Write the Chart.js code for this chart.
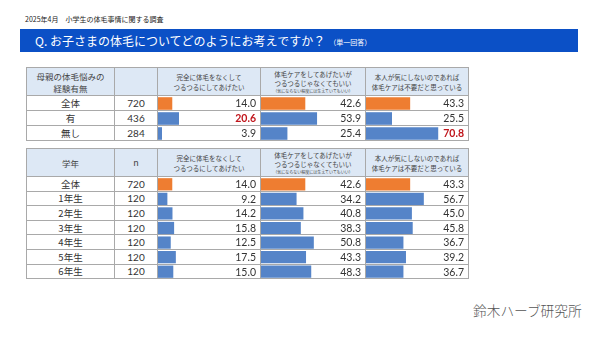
<!DOCTYPE html>
<html>
<head>
<meta charset="utf-8">
<script src="https://cdn.jsdelivr.net/npm/chart.js@4.4.1/dist/chart.umd.min.js"></script>
<style>
  body { margin: 0; background: #fff; font-family: "Noto Sans CJK JP", sans-serif; }
  #page { position: relative; width: 599px; height: 337px; overflow: hidden; }
  .date { position: absolute; left: 25px; top: 14px; font-size: 7px; color: #222; white-space: nowrap; }
  .qbar { position: absolute; left: 20px; top: 29px; width: 558px; height: 23px; background: #0b50c6;
          color: #fff; font-size: 12px; line-height: 23px; white-space: nowrap; box-sizing: border-box; padding-left: 15px; }
  .qbar .sub { font-size: 7px; margin-left: 4px; vertical-align: 1px; }
  .cell { position: absolute; box-sizing: border-box; border-right: 1px solid #a9a9a9; border-bottom: 1px solid #a9a9a9;
          display: flex; align-items: center; justify-content: center; text-align: center; color: #333; white-space: nowrap; }
  .head { background: #dde8f5; color: #444; }
  .tbl { position: absolute; border-left: 1px solid #a9a9a9; border-top: 1px solid #a9a9a9; }
  .num { font-family: Lato, "Noto Sans", sans-serif; font-size: 10px; }
  canvas { position: absolute; }
  .logo { position: absolute; left: 473px; top: 300px; font-size: 13.7px; color: #555; white-space: nowrap; font-weight: 300; }
</style>
</head>
<body>
<div id="page">
  <div class="date">2025年4月　小学生の体毛事情に関する調査</div>
  <div class="qbar">Q. お子さまの体毛についてどのようにお考えですか？<span class="sub">（単一回答）</span></div>
  <div class="logo">鈴木ハーブ研究所</div>
</div>
<script>
// column headers
const answerHeaders = [
  ['完全に体毛をなくして', 'つるつるにしてあげたい'],
  ['体毛ケアをしてあげたいが', 'つるつるじゃなくてもいい', '（気にならない程度には生えていてもいい）'],
  ['本人が気にしないのであれば', '体毛ケアは不要だと思っている']
];

// table 1: mother's body hair worries
const motherHead = ['母親の体毛悩みの', '経験有無'];
const motherRows = ['全体', '有', '無し'];
const motherN = [720, 436, 284];
const motherFull = [14.0, 20.6, 3.9];
const motherMid = [42.6, 53.9, 25.4];
const motherNone = [43.3, 25.5, 70.8];
const motherRed = [[false, true, false], [false, false, false], [false, false, true]];

// table 2: school grade
const gradeHead = ['学年'];
const gradeRows = ['全体', '1年生', '2年生', '3年生', '4年生', '5年生', '6年生'];
const gradeN = [720, 120, 120, 120, 120, 120, 120];
const gradeFull = [14.0, 9.2, 14.2, 15.8, 12.5, 17.5, 15.0];
const gradeMid = [42.6, 34.2, 40.8, 38.3, 50.8, 43.3, 48.3];
const gradeNone = [43.3, 56.7, 45.0, 45.8, 36.7, 39.2, 36.7];

const ORANGE = '#ee7d31';
const BLUE = '#5584c8';
const colW = [88, 43, 103, 105, 103];

const valueLabels = {
  id: 'valueLabels',
  afterDatasetsDraw(chart) {
    const ctx = chart.ctx;
    const ds = chart.data.datasets[0];
    const red = chart.options.plugins.valueLabels.red || [];
    chart.getDatasetMeta(0).data.forEach((bar, i) => {
      ctx.save();
      ctx.font = (red[i] ? 'bold ' : '') + '10.5px Lato, "Noto Sans", sans-serif';
      ctx.fillStyle = red[i] ? '#c0161c' : '#333';
      ctx.textAlign = 'right';
      ctx.textBaseline = 'middle';
      ctx.fillText(ds.data[i].toFixed(1), chart.chartArea.right - 4, bar.y + 0.5);
      ctx.restore();
    });
  }
};

function buildTable(top, headLines, nHead, rows, nValues, series, reds, rowH) {
  const page = document.getElementById('page');
  const tbl = document.createElement('div');
  tbl.className = 'tbl';
  tbl.style.left = '26px';
  tbl.style.top = top + 'px';
  const totalW = colW.reduce((a, b) => a + b, 0);
  const headH = 28;
  const bodyH = rowH * rows.length;
  tbl.style.width = totalW + 'px';
  tbl.style.height = (headH + bodyH) + 'px';
  page.appendChild(tbl);

  const xs = [0];
  colW.forEach(w => xs.push(xs[xs.length - 1] + w));

  function cell(x, y, w, h, html, cls) {
    const d = document.createElement('div');
    d.className = 'cell ' + (cls || '');
    d.style.left = x + 'px'; d.style.top = y + 'px';
    d.style.width = w + 'px'; d.style.height = h + 'px';
    d.innerHTML = html;
    tbl.appendChild(d);
    return d;
  }

  // header
  cell(xs[0], 0, colW[0], headH, '<div style="font-size:8.5px;line-height:12px">' + headLines.join('<br>') + '</div>', 'head');
  cell(xs[1], 0, colW[1], headH, '<div style="font-size:9px">' + nHead + '</div>', 'head');
  answerHeaders.forEach((lines, c) => {
    let html = '<div style="font-size:6.5px;line-height:' + (lines.length > 2 ? '9px' : '10px') + '">';
    lines.forEach((l, k) => {
      html += k === 2 ? '<div style="font-size:4px;line-height:6px">' + l + '</div>' : '<div>' + l + '</div>';
    });
    cell(xs[2 + c], 0, colW[2 + c], headH, html + '</div>', 'head');
  });

  // body cells
  rows.forEach((r, i) => {
    const y = headH + i * rowH;
    cell(xs[0], y, colW[0], rowH, '<span style="font-size:9.5px">' + r + '</span>');
    cell(xs[1], y, colW[1], rowH, nValues[i], 'num');
    for (let c = 0; c < 3; c++) cell(xs[2 + c], y, colW[2 + c], rowH, '');
  });

  // bar charts, one per answer column
  series.forEach((values, c) => {
    const cv = document.createElement('canvas');
    cv.width = colW[2 + c] - 1;
    cv.height = Math.round(bodyH);
    cv.style.left = xs[2 + c] + 'px';
    cv.style.top = headH + 'px';
    tbl.appendChild(cv);
    new Chart(cv, {
      type: 'bar',
      data: {
        labels: rows,
        datasets: [{
          data: values,
          backgroundColor: rows.map((r, i) => i === 0 ? ORANGE : BLUE),
          barPercentage: 0.84,
          categoryPercentage: 1
        }]
      },
      options: {
        indexAxis: 'y',
        responsive: false,
        animation: false,
        layout: { padding: 0 },
        plugins: {
          legend: { display: false },
          tooltip: { enabled: false },
          valueLabels: { red: reds ? reds[c] : [] }
        },
        scales: {
          x: { display: false, min: 0, max: 100 },
          y: { display: false }
        }
      },
      plugins: [valueLabels]
    });
  });
}

buildTable(67, motherHead, '', motherRows, motherN, [motherFull, motherMid, motherNone], motherRed, 15);
buildTable(148, gradeHead, 'n', gradeRows, gradeN, [gradeFull, gradeMid, gradeNone], null, 14.6);
</script>
</body>
</html>
